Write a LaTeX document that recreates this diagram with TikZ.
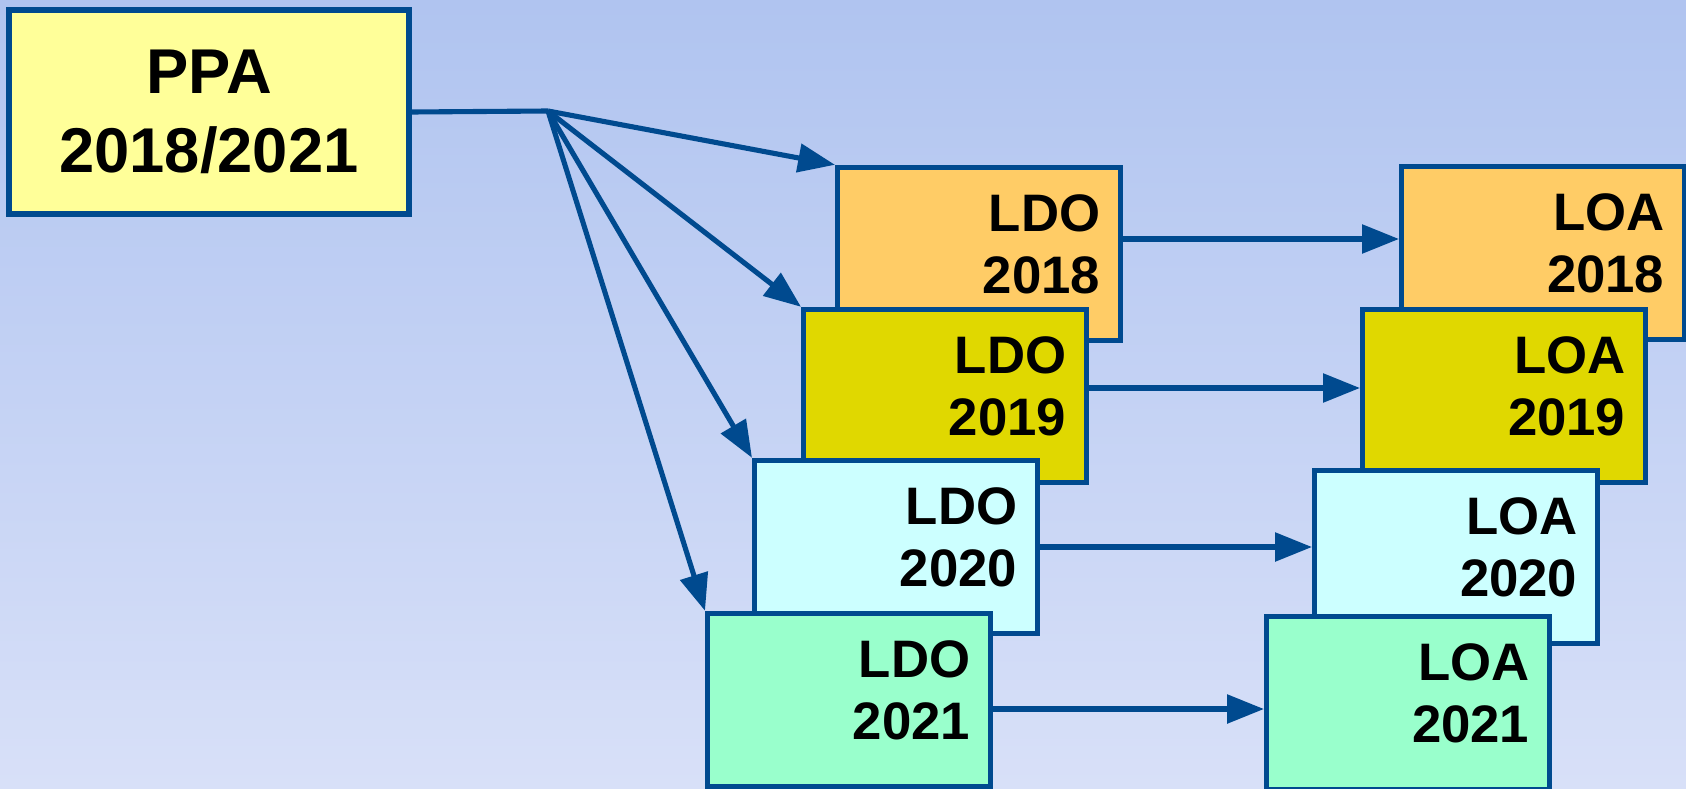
\documentclass[tikz,border=0pt]{standalone}
\usepackage{fontspec}
\setmainfont{Liberation Sans}
\usepackage{tikz}
\usetikzlibrary{arrows.meta,positioning,calc}
\definecolor{EdgeBlue}{HTML}{004A8F}
\definecolor{SkyTop}{HTML}{B0C4F0}
\definecolor{SkyBottom}{HTML}{D8E0F8}
\definecolor{PlanYellow}{HTML}{FFFF99}
\definecolor{YearOrange}{HTML}{FFCC66}
\definecolor{YearOlive}{HTML}{E0D800}
\definecolor{YearCyan}{HTML}{CCFFFF}
\definecolor{YearGreen}{HTML}{99FFCC}

\begin{document}
\begin{tikzpicture}[x=0.01cm, y=-0.01cm,
    plan/.style={draw=EdgeBlue, fill=PlanYellow, line width=1.5pt,
                 minimum width=4cm, minimum height=2.04cm, align=center,
                 font=\fontsize{18pt}{22.4pt}\selectfont\bfseries},
    year/.style={draw=EdgeBlue, line width=1.5pt,
                 minimum width=2.82cm, minimum height=1.73cm,
                 inner xsep=5.7pt, inner ysep=0pt, text width=69pt, align=right,
                 text height=11pt, text depth=24pt,
                 font=\fontsize{15pt}{17.6pt}\selectfont\bfseries},
    arrow/.style={-{Triangle[length=10.5pt, width=8pt]}, EdgeBlue, line width=1.45pt},
  ]
    \useasboundingbox (0,0) rectangle (1686,788);
    \shade[top color=SkyTop, bottom color=SkyBottom] (0,0) rectangle (1686,788);

    \node[plan] (ppa) at (209,112) {PPA\\2018/2021};

    \node[year, fill=YearOrange] (ldoA) at (979,254)  {LDO\\2018};
    \node[year, fill=YearOlive]  (ldoB) at (945,396)  {LDO\\2019};
    \node[year, fill=YearCyan]   (ldoC) at (896,547)  {LDO\\2020};
    \node[year, fill=YearGreen]  (ldoD) at (849,700)  {LDO\\2021};

    \node[year, fill=YearOrange] (loaA) at (1543,253) {LOA\\2018};
    \node[year, fill=YearOlive]  (loaB) at (1504,396) {LOA\\2019};
    \node[year, fill=YearCyan]   (loaC) at (1456,557) {LOA\\2020};
    \node[year, fill=YearGreen]  (loaD) at (1408,703) {LOA\\2021};

    \coordinate (fork) at (548,111);
    \draw[EdgeBlue, line width=1.45pt] (ppa.east) -- (fork);
    \draw[arrow] (fork) -- (ldoA.north west);
    \draw[arrow] (fork) -- (ldoB.north west);
    \draw[arrow] (fork) -- (ldoC.north west);
    \draw[arrow] (fork) -- (ldoD.north west);

    \draw[arrow] ([yshift=0.15cm]ldoA.east) -- ([yshift=0.15cm]ldoA.east -| loaA.west);
    \draw[arrow] ([yshift=0.08cm]ldoB.east) -- ([yshift=0.08cm]ldoB.east -| loaB.west);
    \draw[arrow] (ldoC.east) -- (ldoC.east -| loaC.west);
    \draw[arrow] ([yshift=-0.09cm]ldoD.east) -- ([yshift=-0.09cm]ldoD.east -| loaD.west);
  \end{tikzpicture}
\end{document}
